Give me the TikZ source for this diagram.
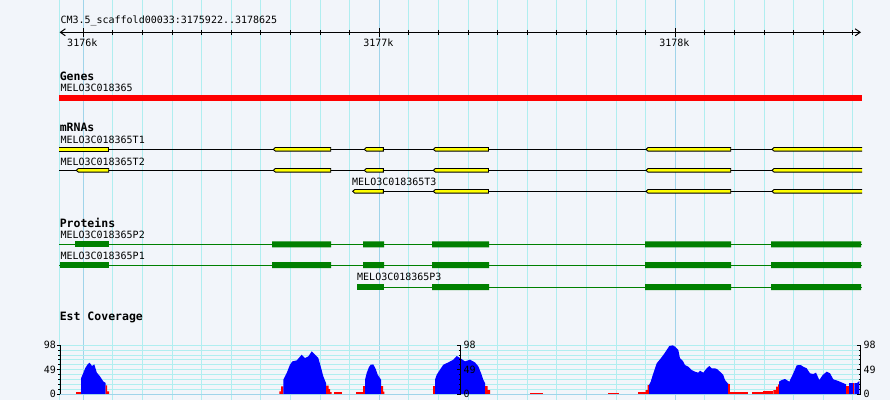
\documentclass[tikz,border=0pt]{standalone}
\usepackage{fontspec}
\setmonofont{DejaVu Sans Mono}
\usetikzlibrary{arrows.meta}
\definecolor{bgcol}{RGB}{242,245,250}
\definecolor{gridcol}{RGB}{176,238,240}
\definecolor{majcol}{RGB}{160,212,234}
\definecolor{exoncol}{RGB}{255,255,0}
\definecolor{protcol}{RGB}{0,128,0}
\definecolor{covblue}{RGB}{0,0,255}
\definecolor{covred}{RGB}{255,0,0}
\begin{document}
\begin{tikzpicture}
  [x=1pt,y=-1pt,line width=1pt,
   lbl/.style={font=\ttfamily\fontsize{10}{10}\selectfont,anchor=west,inner sep=0pt},
   head/.style={font=\ttfamily\bfseries\fontsize{11.5}{11.5}\selectfont,anchor=west,inner sep=0pt},
   axlbl/.style={font=\ttfamily\fontsize{10}{10}\selectfont,inner sep=0pt},
   exon/.style={draw=black,fill=exoncol,line width=0.9pt},
   edge/.style={draw=black,line width=0.9pt},
   prot/.style={fill=protcol},
   pline/.style={draw=protcol},
   >={Straight Barb[length=5pt,width=7pt]}]
  \useasboundingbox (0,0) rectangle (890,400);
  \fill[bgcol] (0,0) rectangle (890,400);
  % grid
  \draw[gridcol] (59.3,0) -- (59.3,400);
  \foreach \k in {0,...,26}
    \draw[gridcol] (83.3+29.6*\k,0) -- (83.3+29.6*\k,400);
  \foreach \k in {0,10,20}
    \draw[majcol] (83.3+29.6*\k,0) -- (83.3+29.6*\k,400);
  % ruler
  \node[lbl,name=title] at (60,21) {CM3.5\_scaffold00033:3175922..3178625};
  \draw[<->] (59.5,32.3) -- (861,32.3);
  \foreach \k in {0,...,26}
    \draw (83.3+29.6*\k,29.8) -- (83.3+29.6*\k,34.8);
  \foreach \k/\t in {0/3176k,10/3177k,20/3178k}{
    \draw (83.3+29.6*\k,28.3) -- (83.3+29.6*\k,36.7);
    \node[axlbl,name=tick\k] at (82.3+29.6*\k,42.7) {\t};
  }
  % genes
  \node[head,name=genes] at (59.3,76) {Genes};
  \node[lbl,name=gene] at (60,88) {MELO3C018365};
  \fill[covred] (59.3,95.3) rectangle (862,100.7);
  % mRNAs
  \node[head,name=mrnas] at (59.3,127.3) {mRNAs};
  \node[lbl,name=t1] at (60,140) {MELO3C018365T1};
  \node[lbl,name=t2] at (60,161.7) {MELO3C018365T2};
  \node[lbl,name=t3] at (351.7,182.3) {MELO3C018365T3};
  \draw (59.3,149.3) -- (862,149.3);
  \draw (59.3,170.3) -- (862,170.3);
  \draw (352.7,191.3) -- (862,191.3);
  \fill[exoncol] (59.3,147.5) rectangle (108.7,151.1);
  \draw[edge] (59.3,147.5) -- (108.7,147.5) -- (108.7,151.1) -- (59.3,151.1);
  \foreach \ty/\a/\b in {149.3/273.3/330.7,149.3/364.3/383.3,
      170.3/76.3/108.7,170.3/273.3/330.7,170.3/364.3/383.3,
      191.3/352.7/383.3}
    \draw[exon] (\a+2,\ty-1.8) -- (\a,\ty) -- (\a+2,\ty+1.8) -- (\b,\ty+1.8) -- (\b,\ty-1.8) -- cycle;
  \foreach \ty in {149.3,170.3,191.3}{
    \foreach \a/\b in {433.3/488.5,646/730.7}
      \draw[exon] (\a+2,\ty-1.8) -- (\a,\ty) -- (\a+2,\ty+1.8) -- (\b,\ty+1.8) -- (\b,\ty-1.8) -- cycle;
    \fill[exoncol] (774,\ty-1.8) -- (772,\ty) -- (774,\ty+1.8) -- (862,\ty+1.8) -- (862,\ty-1.8) -- cycle;
    \draw[edge] (862,\ty-1.8) -- (774,\ty-1.8) -- (772,\ty) -- (774,\ty+1.8) -- (862,\ty+1.8);
  }
  % proteins
  \node[head,name=proteins] at (59.3,223.3) {Proteins};
  \node[lbl,name=p2] at (60,235.3) {MELO3C018365P2};
  \node[lbl,name=p1] at (60,255.7) {MELO3C018365P1};
  \node[lbl,name=p3] at (356.7,276.7) {MELO3C018365P3};
  \draw[pline] (59.3,244.3) -- (862,244.3);
  \draw[pline] (59.3,265) -- (862,265);
  \draw[pline] (357,287) -- (862,287);
  \foreach \ty/\a/\b in {244.3/75.3/109,265/60/109,287/357/384}
    \fill[prot] (\a,\ty-3) rectangle (\b,\ty+3);
  \foreach \ty in {244.3,265}
    \fill[prot] (272,\ty-3) rectangle (331,\ty+3) (363,\ty-3) rectangle (384,\ty+3);
  \foreach \ty in {244.3,265,287}
    \fill[prot] (432,\ty-3) rectangle (489,\ty+3) (645,\ty-3) rectangle (731,\ty+3)
      (771,\ty-3) rectangle (861,\ty+3);
  % coverage
  \node[head,name=est] at (59.3,317.7) {Est Coverage};
  \foreach \k in {0,...,9}
    \draw[gridcol] (60,345.3+4.87*\k) -- (861,345.3+4.87*\k);
  \fill[covred] (76,394) -- (76,392) -- (81,392) -- (81,394) -- cycle;
  \fill[covblue] (81,394) -- (81,378.4) -- (83.3,373) -- (85.3,368) -- (87.5,364.5) -- (89.3,362.7)
    -- (91,364.5) -- (92,366) -- (94.3,364.4) -- (96.7,372.4) -- (100,376.4) -- (103.3,381.4)
    -- (105.7,383) -- (105.7,394) -- cycle;
  \fill[covred] (105.7,394) -- (105.7,385.4) -- (107,385.4) -- (107,391.4) -- (109,391.4) -- (109,394) -- cycle;
  \fill[covred] (279.3,394) -- (279.3,391.3) -- (281,391.3) -- (281,386.3) -- (283.3,386.3) -- (283.3,394) -- cycle;
  \fill[covblue] (283.3,394) -- (283.3,379.7) -- (286.7,373) -- (290,364.7) -- (292.3,361.4)
    -- (296.7,360.4) -- (301.7,354.7) -- (305,358) -- (308.3,356.4) -- (311.7,351.4) -- (315,354.7)
    -- (318.3,358) -- (320.7,366.4) -- (323.3,376.4) -- (326,383) -- (326,394) -- cycle;
  \fill[covred] (326,394) -- (326,385.5) -- (328.5,385.5) -- (328.5,389) -- (330,389) -- (330,392)
    -- (331.7,392) -- (331.7,394) -- cycle;
  \fill[covred] (334,392.3) rectangle (342,394);
  \fill[covred] (356,392.3) rectangle (361,394);
  \fill[covred] (361,394) -- (361,392) -- (363,392) -- (363,386) -- (365,386) -- (365,394) -- cycle;
  \fill[covblue] (365,394) -- (365,379.7) -- (366.7,373) -- (369,367) -- (370.7,364.7) -- (373.3,364.4)
    -- (375.7,369) -- (377.7,374.7) -- (381,379.7) -- (381,394) -- cycle;
  \fill[covred] (381,394) -- (381,386) -- (383,386) -- (383,391.5) -- (384.3,391.5) -- (384.3,394) -- cycle;
  \fill[covred] (432.7,386) rectangle (435,394);
  \fill[covblue] (435,394) -- (435,379.7) -- (436.7,374.7) -- (440,369.7) -- (443.3,364.7) -- (448.3,362.4)
    -- (453.3,359.7) -- (456.7,356) -- (460,358) -- (465,361.4) -- (470,359.7) -- (475,362.4)
    -- (478.3,366.4) -- (481,373) -- (483.3,379.7) -- (485,383) -- (485,394) -- cycle;
  \fill[covred] (485,394) -- (485,386) -- (487.5,386) -- (487.5,390) -- (490,390) -- (490,394) -- cycle;
  \fill[covred] (530,392.7) rectangle (542.7,394);
  \fill[covred] (608.3,392.7) rectangle (619,394);
  \fill[covred] (638.3,392.3) rectangle (645.7,394);
  \fill[covred] (645.7,394) -- (645.7,390) -- (647.5,390) -- (647.5,385) -- (649,385) -- (649,394) -- cycle;
  \fill[covblue] (649,394) -- (649,385) -- (650.7,381.7) -- (653.3,373.3) -- (656.7,363.3) -- (660,359.3)
    -- (663.3,355) -- (666.7,350) -- (669.3,346) -- (672.7,345.3) -- (675,346.7) -- (678.3,350)
    -- (680,358.3) -- (682.7,360.7) -- (685,365) -- (688.3,366.7) -- (691.7,370) -- (695,371.7)
    -- (698.3,372.7) -- (700,370.7) -- (703.3,372.7) -- (706.7,368.3) -- (709.3,366) -- (711.7,368.3)
    -- (715,368.3) -- (717.3,369.3) -- (720,371.7) -- (723.3,375) -- (725,380) -- (727.7,383.3)
    -- (728.3,383.3) -- (728.3,394) -- cycle;
  \fill[covred] (728.3,384) rectangle (730,394);
  \fill[covred] (730,392.3) rectangle (747.7,394);
  \fill[covred] (752.3,392.3) rectangle (763.3,394);
  \fill[covred] (763.3,391.3) rectangle (773.3,394);
  \fill[covred] (773.3,394) -- (773.3,390) -- (776,390) -- (776,386.5) -- (778,386.5) -- (778,384.3)
    -- (779,384.3) -- (779,394) -- cycle;
  \fill[covblue] (779,394) -- (779,381.7) -- (781.7,380) -- (785,379) -- (789.3,381.7) -- (793.3,373.3)
    -- (796.7,365.3) -- (800.7,365) -- (803.3,366.7) -- (806.7,368.3) -- (810,373.3) -- (813.3,374)
    -- (816,372.7) -- (819.3,380) -- (822.7,375) -- (826.7,371.7) -- (830,373.3) -- (833.3,379.3)
    -- (838.3,381) -- (842.3,382.7) -- (846,384.3) -- (846,394) -- cycle;
  \fill[covred] (846,386) rectangle (848.7,394);
  \fill[covblue] (848.7,382.7) rectangle (852.7,394);
  \fill[covred] (852.7,383) rectangle (854.3,394);
  \fill[covblue] (854.3,394) -- (854.3,383) -- (857,383) -- (859.3,381) -- (859.3,394) -- cycle;
  \draw[majcol] (59.3,394.5) -- (861,394.5);
  % axes
  \foreach \ax in {60.3,460.7,860.7}{
    \draw (\ax,345.3) -- (\ax,394);
    \foreach \k in {0,...,10}
      \draw (\ax-2,345.3+4.87*\k) -- (\ax,345.3+4.87*\k);
    \foreach \k in {0,5,10}
      \draw (\ax-3.5,345.3+4.87*\k) -- (\ax,345.3+4.87*\k);
  }
  \foreach \k/\v in {0/98,5/49,10/0}{
    \node[axlbl,anchor=east,name=la\v] at (56.5,345.3+4.87*\k) {\v};
    \node[axlbl,anchor=west,name=ma\v] at (463,345.3+4.87*\k) {\v};
    \node[axlbl,anchor=west,name=ra\v] at (863,345.3+4.87*\k) {\v};
  }
\end{tikzpicture}
\end{document}
